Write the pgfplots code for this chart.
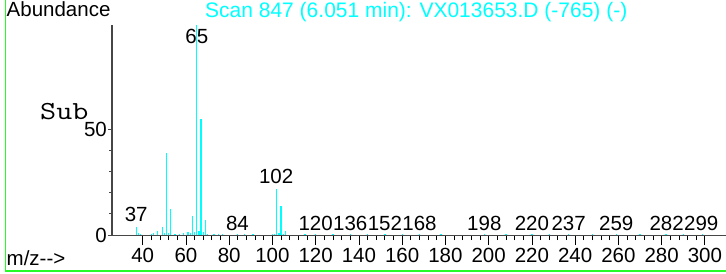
\documentclass[border=0pt]{standalone}
\usepackage{pgfplots}
\pgfplotsset{compat=1.18}
\usepackage{fontspec}
\setmainfont{Liberation Sans}
\definecolor{specc}{RGB}{0,255,255}
\definecolor{frameg}{RGB}{40,250,40}
\definecolor{axg}{RGB}{70,70,70}
\begin{document}
\begin{tikzpicture}[x=1bp,y=1bp]
\useasboundingbox (0,0) rectangle (726,273);
% frame
\draw[frameg,line width=1.5bp] (5.5,273) -- (5.5,2) -- (726,2);
% y axis (ticks only)
\begin{axis}[
  at={(112bp,38bp)}, anchor=south west,
  scale only axis, width=614.5bp, height=210bp,
  xmin=25.8, xmax=310, ymin=0, ymax=99,
  axis x line=none, axis y line=left,
  axis line style={-, axg, line width=1.8bp},
  ytick={0,50}, minor y tick num=4,
  tick align=outside, major tick length=4bp, minor tick length=3bp,
  y tick style={axg, line width=0.8bp},
  yticklabel style={font=\fontsize{20.5bp}{24bp}\selectfont, inner sep=1bp},
  /pgf/number format/assume math mode=true,
]
\addplot[draw=none] coordinates {(30,0)};
\end{axis}
\begin{axis}[
  at={(112bp,38bp)}, anchor=south west,
  scale only axis, width=614.5bp, height=210bp,
  xmin=25.8, xmax=310, ymin=0, ymax=99,
  axis y line=none, axis x line=bottom,
  axis line style={-, axg, line width=1bp},
  xtick={40,60,...,300}, minor x tick num=4,
  tick align=outside, major tick length=10bp, minor tick length=5bp,
  x tick style={black, line width=0.8bp},
  xticklabel style={font=\fontsize{20.5bp}{24bp}\selectfont, inner sep=1bp, yshift=-2bp},
  /pgf/number format/assume math mode=true,
  clip=false,
]
\addplot[ycomb, specc, line width=1.3bp, mark=none] coordinates {
(37,4) (38,1) (39,0.5) (44,0.5) (45,1) (47,2) (49,4) (50,1) (51,38.7) (52,1) (53,12.3)
(55,0.5) (57,0.3) (59,0.8) (61,1.5) (62,1) (63,9) (64,1.5) (65,99) (66,2) (67,54.7)
(68,1.5) (69,7) (70,0.5) (73,0.5) (75,0.5) (77,0.3) (84,0.3) (87,0.3) (91,0.3)
(100,0.5) (101,0.5) (102,21.5) (103,1) (104,13.7) (105,0.5) (106,2)
(115,0.3) (120,0.3) (128,0.3) (136,0.3) (144,0.3) (152,0.3) (160,0.3) (168,0.3)
(178,0.3) (198,0.3) (208,0.3) (220,0.3) (228,0.3) (237,0.3) (248,0.3) (259,0.3)
(270,0.3) (282,0.3) (290,0.3) (299,0.3)
};
\begin{scope}[every node/.style={font=\fontsize{20.5bp}{24bp}\selectfont, inner sep=0pt, anchor=center}]
\node at (axis cs:65,93.8) {65};
\node at (axis cs:37,9.9) {37};
\node at (axis cs:83.8,5.5) {84};
\node at (axis cs:101.7,27.8) {102};
\node at (axis cs:120,5.4) {120};
\node at (axis cs:136,5.4) {136};
\node at (axis cs:152,5.4) {152};
\node at (axis cs:168,5.4) {168};
\node at (axis cs:198,5.4) {198};
\node at (axis cs:220,5.4) {220};
\node at (axis cs:237,5.4) {237};
\node at (axis cs:259,5.4) {259};
\node at (axis cs:282.3,5.4) {282};
\node at (axis cs:298.3,5.4) {299};
\end{scope}
\end{axis}
% texts
\node[anchor=west, inner sep=0pt, font=\fontsize{20.5bp}{24bp}\selectfont] at (6.5,263.5) {Abundance};
\node[anchor=west, inner sep=0pt, font=\fontsize{21bp}{24bp}\selectfont, text=specc] at (205,261) {Scan 847 (6.051 min): VX013653.D (-765) (-)};
\node[anchor=west, inner sep=0pt, font=\fontsize{20.5bp}{24bp}\selectfont] at (6.5,15) {m/z-{}-{}>};
\node[anchor=base west, inner sep=0pt, font=\fontsize{26bp}{28bp}\ttfamily, xscale=1.2, transform shape] at (40,154) {Sub};
\end{tikzpicture}
\end{document}
